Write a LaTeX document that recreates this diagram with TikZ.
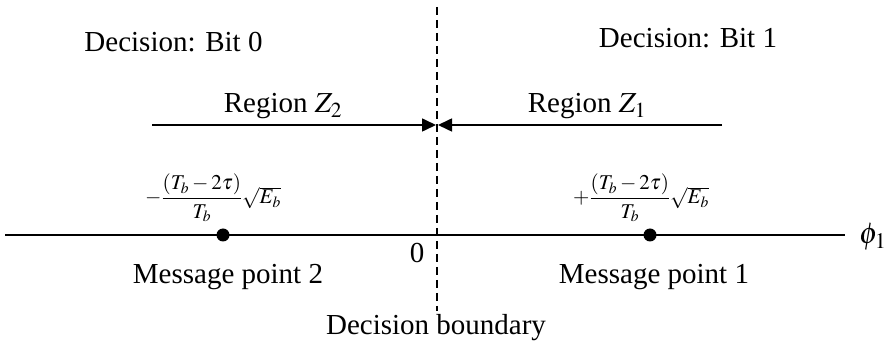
\documentclass[tikz,border=0pt]{standalone}
\usepackage{amsmath}
\usepackage{mathptmx}
\usepackage[no-math]{fontspec}
\setmainfont{Liberation Serif}
\usepackage{tikz}
\usetikzlibrary{arrows.meta,positioning}
\tikzset{
  ar/.style={-{Triangle[length=14pt,width=13pt]},line width=1.6pt},
  ax/.style={line width=1.6pt},
  bnd/.style={line width=1.4pt,dash pattern=on 8pt off 5pt},
  lbl/.style={font=\fontsize{29}{34}\selectfont,inner sep=0pt,anchor=base},
  frm/.style={font=\fontsize{21}{25}\selectfont,inner sep=0pt},
  dot/.style={circle,fill=black,minimum size=13pt,inner sep=0pt}
}
\begin{document}
\begin{tikzpicture}[x=1pt,y=-1pt]
\useasboundingbox (0,0) rectangle (886,344);
% decision boundary and axis
\coordinate (bTop) at (437,7); \coordinate (bBot) at (437,311);
\draw[bnd] (bTop)--(bBot);
\coordinate (axL) at (5,235); \coordinate (axR) at (845,235);
\draw[ax] (axL)--(axR);
\node[dot] (m2) at (223,235) {}; \node[dot] (m1) at (650,235) {};
% labels
\node[lbl] (d0) at (173.5,52) {Decision: Bit 0};
\node[lbl] (d1) at (688,48) {Decision: Bit 1};
\node[lbl] (z2) at (283,113) {Region $Z_2$};
\node[lbl] (z1) at (587,113) {Region $Z_1$};
\node[lbl] (p2) at (228,284) {Message point 2};
\node[lbl] (p1) at (654,284) {Message point 1};
\node[lbl] (zero) at (417,263) {0};
\node[lbl] (db) at (436,335) {Decision boundary};
\node[font=\fontsize{30}{34}\selectfont,inner sep=0pt,anchor=base west] (phi) at (859,244) {$\phi_1$};
\node[frm] (f2) at (213,198) {$-\dfrac{(T_b-2\tau)}{T_b}\sqrt{E_b}$};
\node[frm] (f1) at (641,198) {$+\dfrac{(T_b-2\tau)}{T_b}\sqrt{E_b}$};
% region arrows
\coordinate (a2s) at (152,125); \coordinate (a2e) at (436,125);
\coordinate (a1s) at (722,125); \coordinate (a1e) at (438,125);
\draw[ar] (a2s)--(a2e); \draw[ar] (a1s)--(a1e);
\end{tikzpicture}
\end{document}
